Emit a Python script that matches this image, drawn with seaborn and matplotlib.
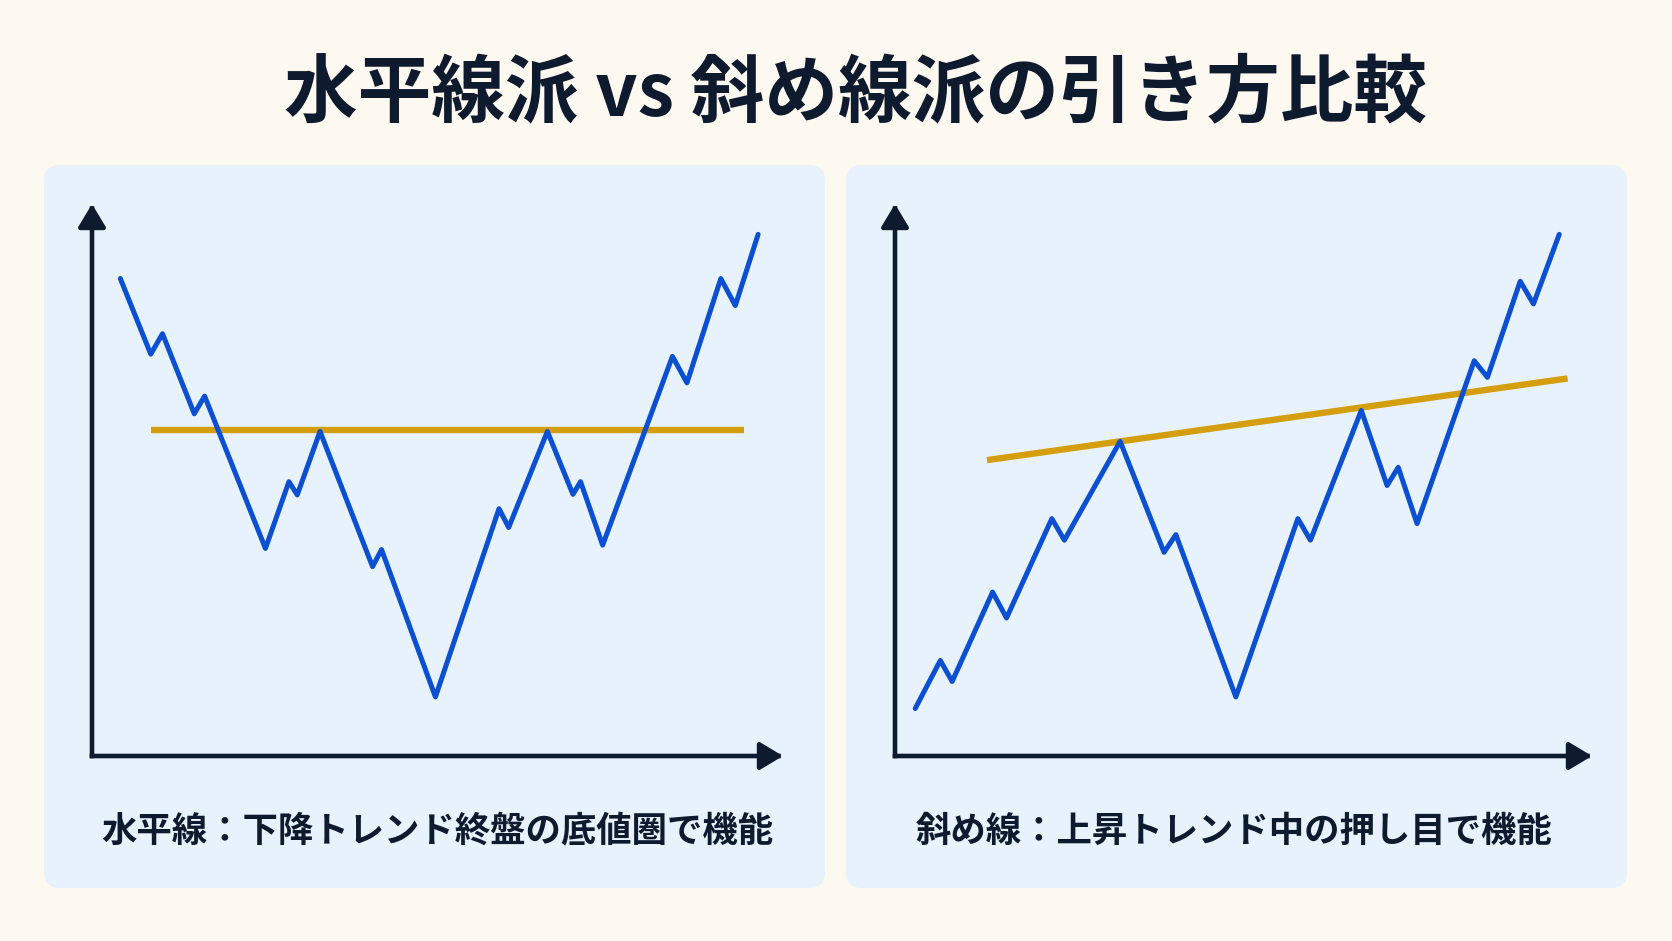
import matplotlib
matplotlib.use("Agg")
import matplotlib.pyplot as plt
from matplotlib.patches import FancyBboxPatch
import seaborn as sns
import pandas as pd

sns.set_theme(style="white")
plt.rcParams['font.family'] = ['Noto Sans CJK JP', 'DejaVu Sans']

# --- data (arbitrary units, 0-100 on both axes) ---
title = "水平線派 vs 斜め線派の引き方比較"
left_caption = "水平線：下降トレンド終盤の底値圏で機能"
right_caption = "斜め線：上昇トレンド中の押し目で機能"

left_x = [4.1, 8.5, 10.2, 14.8, 16.3, 25.1, 28.5, 29.7, 33.0, 40.6, 41.9, 49.7,
          58.9, 60.3, 65.9, 69.6, 70.7, 73.9, 84.0, 86.1, 91.0, 93.1, 96.4]
left_y = [86.5, 72.8, 76.5, 62.0, 65.2, 37.6, 49.7, 47.3, 58.8, 34.3, 37.4, 10.7,
          44.8, 41.4, 58.8, 47.4, 49.7, 38.2, 72.4, 67.6, 86.5, 81.6, 94.5]
hline_x = [8.5, 94.4]
hline_y = [59.0, 59.0]

right_x = [2.9, 6.5, 8.2, 14.0, 16.0, 22.5, 24.3, 32.3, 38.6, 40.3, 48.9,
           57.8, 59.6, 66.9, 70.6, 72.2, 74.9, 83.1, 85.0, 89.7, 91.6, 95.3]
right_y = [8.6, 17.3, 13.5, 29.7, 25.0, 43.0, 39.1, 57.0, 36.9, 40.1, 10.7,
           43.0, 39.1, 62.6, 49.0, 52.3, 42.1, 71.6, 68.6, 86.0, 81.9, 94.5]
trend_x = [13.2, 96.5]
trend_y = [53.6, 68.4]

BG = "#FDF8F0"
PANEL = "#E8F2FC"
BLUE = "#0B50D2"
GOLD = "#D49E0C"
NAVY = "#0E1A2E"

W, H = 1672, 941
fig = plt.figure(figsize=(W / 100, H / 100), dpi=100, facecolor=BG)

# background layer in pixel coordinates
bg = fig.add_axes([0, 0, 1, 1], zorder=0)
bg.set_xlim(0, W)
bg.set_ylim(H, 0)
bg.axis("off")
for x0, x1 in [(44, 825), (846, 1627)]:
    bg.add_patch(FancyBboxPatch((x0, 165), x1 - x0, 888 - 165,
                                boxstyle="round,pad=0,rounding_size=16",
                                facecolor=PANEL, edgecolor="none"))

bg.text(855, 94, title, ha="center", va="center", fontsize=53,
        fontweight="bold", color=NAVY)
bg.text(437, 831, left_caption, ha="center", va="center", fontsize=25.5,
        fontweight="bold", color=NAVY)
bg.text(1234, 831, right_caption, ha="center", va="center", fontsize=25.5,
        fontweight="bold", color=NAVY)


def chart(rect, xs, ys, lx, ly):
    ax = fig.add_axes(rect, zorder=1)
    ax.set_xlim(0, 100)
    ax.set_ylim(0, 100)
    ax.axis("off")
    ax.patch.set_alpha(0)
    arrow = dict(arrowstyle="-|>,head_length=0.7,head_width=0.42",
                 mutation_scale=20, color=NAVY, lw=3.3,
                 shrinkA=0, shrinkB=0, capstyle="projecting")
    ax.annotate("", xy=(0, 1), xytext=(0, 0), xycoords="axes fraction",
                arrowprops=arrow, annotation_clip=False)
    ax.annotate("", xy=(1, 0), xytext=(0, 0), xycoords="axes fraction",
                arrowprops=arrow, annotation_clip=False)
    sns.lineplot(data=pd.DataFrame({"x": lx, "y": ly}), x="x", y="y", ax=ax,
                 color=GOLD, lw=4.6, solid_capstyle="butt")
    sns.lineplot(data=pd.DataFrame({"x": xs, "y": ys}), x="x", y="y", ax=ax,
                 sort=False, estimator=None, color=BLUE, lw=3.6,
                 solid_joinstyle="round", solid_capstyle="round")
    ax.set_xlabel("")
    ax.set_ylabel("")


# axes placed from the axis origin to the arrow tips (pixels -> figure fraction)
chart([92 / W, (H - 756) / H, (783 - 92) / W, (756 - 204) / H],
      left_x, left_y, hline_x, hline_y)
chart([895 / W, (H - 756) / H, (1592 - 895) / W, (756 - 204) / H],
      right_x, right_y, trend_x, trend_y)

fig.savefig("out.png", dpi=100, facecolor=BG)
